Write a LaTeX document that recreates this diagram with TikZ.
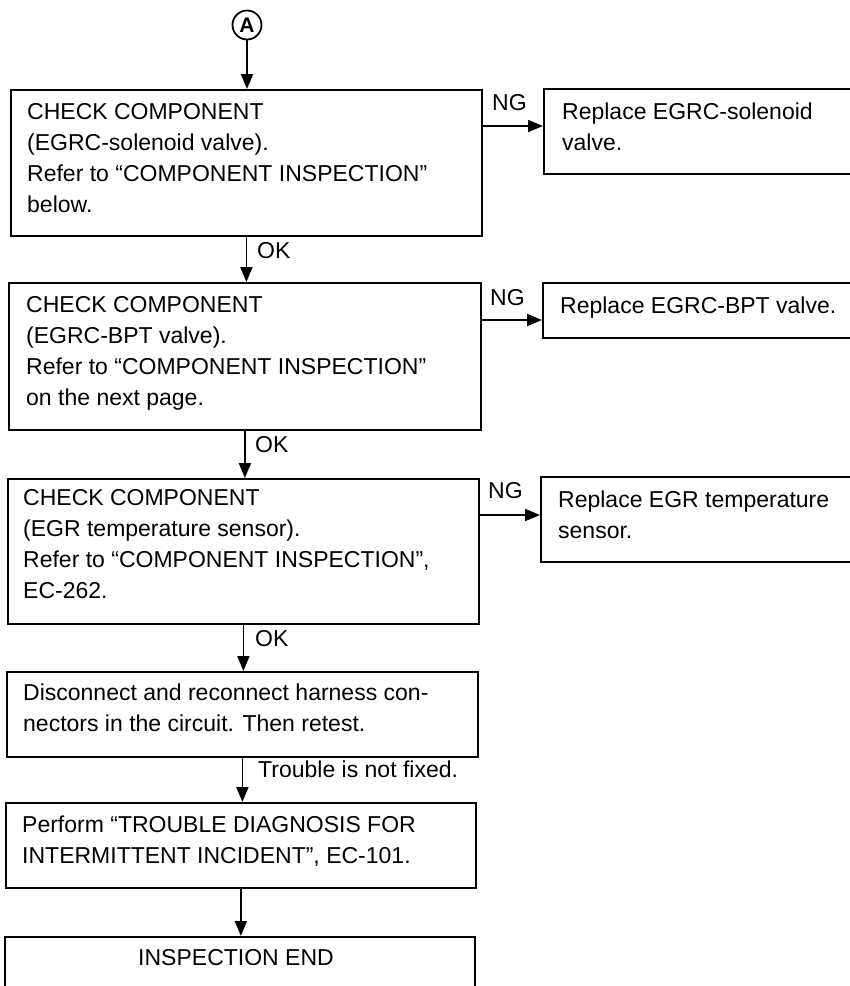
\documentclass[tikz,border=0pt]{standalone}
\usepackage{fontspec}
\setmainfont{Liberation Sans}
\usetikzlibrary{calc,arrows.meta}
\tikzset{
  box/.style={draw, line width=1.8pt, anchor=north west, inner sep=0pt, minimum width=#1},
  txt/.style={anchor=north west, inner sep=0pt, align=left, font=\fontsize{23}{31}\selectfont},
  lbl/.style={anchor=base west, inner sep=0pt, font=\fontsize{23}{31}\selectfont},
  arr/.style={line width=1.8pt, -{Triangle[length=15pt,width=12pt]}},
}
\begin{document}
\begin{tikzpicture}[x=1pt,y=-1pt]
\useasboundingbox (0,0) rectangle (850,986);
\clip (0,0) rectangle (850,986);
\fill[white] (0,0) rectangle (850,986);

% start connector
\node[draw, circle, line width=1.8pt, minimum size=29pt, inner sep=0pt,
      font=\fontsize{21}{21}\selectfont\bfseries] (A) at (247,25) {A};

% main boxes
\node[box=471pt, minimum height=146pt] (b1) at (10,89) {};
\node[box=472pt, minimum height=147pt] (b2) at (8,282) {};
\node[box=471pt, minimum height=145pt] (b3) at (7,478) {};
\node[box=471pt, minimum height=85pt]  (b4) at (6,671) {};
\node[box=470pt, minimum height=85pt]  (b5) at (5,802) {};
\node[box=470pt, minimum height=80pt]  (b6) at (4,936) {};

% replace boxes
\node[box=330pt, minimum height=85pt] (r1) at (543,88) {};
\node[box=330pt, minimum height=55pt] (r2) at (542,282) {};
\node[box=330pt, minimum height=85pt] (r3) at (540,476) {};

% texts
\node[txt] (t1) at ($(b1.north west)+(17,9)$) {\strut CHECK COMPONENT\\(EGRC-solenoid valve).\\Refer to “COMPONENT INSPECTION”\\below.};
\node[txt] (t2) at ($(b2.north west)+(18,9)$) {\strut CHECK COMPONENT\\(EGRC-BPT valve).\\Refer to “COMPONENT INSPECTION”\\on the next page.};
\node[txt] (t3) at ($(b3.north west)+(16,6)$) {\strut CHECK COMPONENT\\(EGR temperature sensor).\\Refer to “COMPONENT INSPECTION”,\\EC-262.};
\node[txt] (t4) at ($(b4.north west)+(17,7.5)$) {\strut Disconnect and reconnect harness con-\\nectors in the circuit. Then retest.};
\node[txt] (t5) at ($(b5.north west)+(17,9)$) {\strut Perform “TROUBLE DIAGNOSIS FOR\\INTERMITTENT INCIDENT”, EC-101.};
\node[lbl, anchor=base] (t6) at (236,965) {INSPECTION END};
\node[txt] (tr1) at ($(r1.north west)+(19,10)$) {\strut Replace EGRC-solenoid\\valve.};
\node[txt] (tr2) at ($(r2.north west)+(18,9.5)$) {\strut Replace EGRC-BPT valve.};
\node[txt] (tr3) at ($(r3.north west)+(18,9.5)$) {\strut Replace EGR temperature\\sensor.};

% vertical connectors
\draw[arr] (A) -- (A |- b1.north);
\draw[arr] (b1.south) -- (b1.south |- b2.north);
\draw[arr] (b2.south) -- (b2.south |- b3.north);
\draw[arr] (b3.south) -- (b3.south |- b4.north);
\draw[arr] (b4.south) -- (b4.south |- b5.north);
\draw[arr] (b5.south) -- (b5.south |- b6.north);

% NG connectors
\coordinate (ng1) at (500,126);
\coordinate (ng2) at (500,320);
\coordinate (ng3) at (500,515);
\draw[arr] (b1.east |- ng1) -- (r1.west |- ng1);
\draw[arr] (b2.east |- ng2) -- (r2.west |- ng2);
\draw[arr] (b3.east |- ng3) -- (r3.west |- ng3);

% labels
\node[lbl] (l1) at (492,110) {NG};
\node[lbl] (l2) at (490,305) {NG};
\node[lbl] (l3) at (488,498) {NG};
\node[lbl] (o1) at (257,258) {OK};
\node[lbl] (o2) at (255,452) {OK};
\node[lbl] (o3) at (255,646) {OK};
\node[lbl] (tr) at (258,777) {Trouble is not fixed.};
\end{tikzpicture}
\end{document}
